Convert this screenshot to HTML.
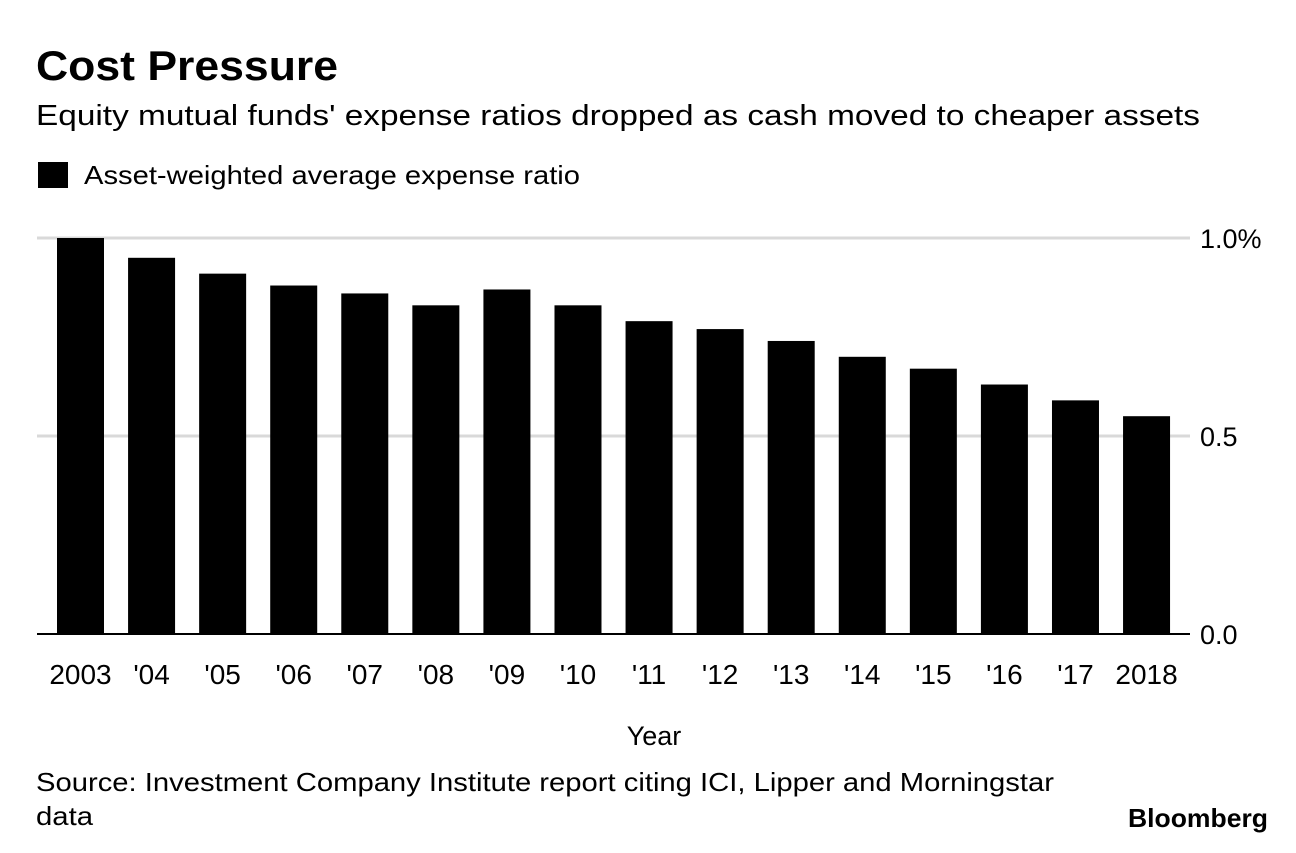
<!DOCTYPE html>
<html><head><meta charset="utf-8"><style>
body{margin:0;width:1296px;height:848px;background:#fff;font-family:"Liberation Sans",Arial,sans-serif;overflow:hidden}
</style></head><body>
<svg width="1296" height="848" xmlns="http://www.w3.org/2000/svg" font-family="Liberation Sans, Arial, sans-serif">
<text x="36" y="80" font-size="42" font-weight="bold" fill="#000" textLength="302" lengthAdjust="spacingAndGlyphs">Cost Pressure</text>
<text x="36" y="125" font-size="29" fill="#000" textLength="1164" lengthAdjust="spacingAndGlyphs">Equity mutual funds' expense ratios dropped as cash moved to cheaper assets</text>
<rect x="38" y="162" width="30" height="26" fill="#000"/>
<text x="84" y="184" font-size="26" fill="#000" textLength="496" lengthAdjust="spacingAndGlyphs">Asset-weighted average expense ratio</text>
<g id="grid"></g><g id="bars"></g><g id="xlabels"></g>
<line x1="37" y1="634" x2="1190" y2="634" stroke="#000" stroke-width="2"/>
<text x="654" y="745" font-size="27" text-anchor="middle">Year</text>
<text x="36" y="791" font-size="26" textLength="1018" lengthAdjust="spacingAndGlyphs">Source: Investment Company Institute report citing ICI, Lipper and Morningstar</text>
<text x="36" y="825" font-size="26" textLength="57" lengthAdjust="spacingAndGlyphs">data</text>
<text x="1268" y="827" font-size="26" font-weight="bold" text-anchor="end" textLength="140" lengthAdjust="spacingAndGlyphs">Bloomberg</text>
</svg>
<script>
const categories=["2003","'04","'05","'06","'07","'08","'09","'10","'11","'12","'13","'14","'15","'16","'17","2018"];
const values=[1.00,0.95,0.91,0.88,0.86,0.83,0.87,0.83,0.79,0.77,0.74,0.70,0.67,0.63,0.59,0.55];
const yTicks=[0,0.5,1.0];
const yTickLabels=["0.0","0.5","1.0%"];
const NS="http://www.w3.org/2000/svg";
const y=v=>634-v*396;
const xc=i=>80.5+i*71.07;
const bw=47;
const grid=document.getElementById('grid'),bars=document.getElementById('bars'),xl=document.getElementById('xlabels');
yTicks.forEach((t,i)=>{
  if(t>0){const l=document.createElementNS(NS,'line');
  l.setAttribute('x1',37);l.setAttribute('x2',1190);l.setAttribute('y1',y(t));l.setAttribute('y2',y(t));
  l.setAttribute('stroke','#d9d9d9');l.setAttribute('stroke-width',3);
  
  
  grid.appendChild(l);}
  const tx=document.createElementNS(NS,'text');
  tx.setAttribute('x',1200);tx.setAttribute('y',y(t)+10);tx.setAttribute('font-size',27);
  tx.textContent=yTickLabels[i];
  
  
  grid.appendChild(tx);
});
values.forEach((v,i)=>{
  const r=document.createElementNS(NS,'rect');
  r.setAttribute('x',xc(i)-bw/2);r.setAttribute('width',bw);r.setAttribute('y',y(v));r.setAttribute('height',634-y(v));r.setAttribute('fill','#000');
  
  
  bars.appendChild(r);
  const t=document.createElementNS(NS,'text');
  t.setAttribute('x',xc(i));t.setAttribute('y',684);t.setAttribute('font-size',28);t.setAttribute('text-anchor','middle');
  t.textContent=categories[i];
  
  
  xl.appendChild(t);
});
</script>
</body></html>
